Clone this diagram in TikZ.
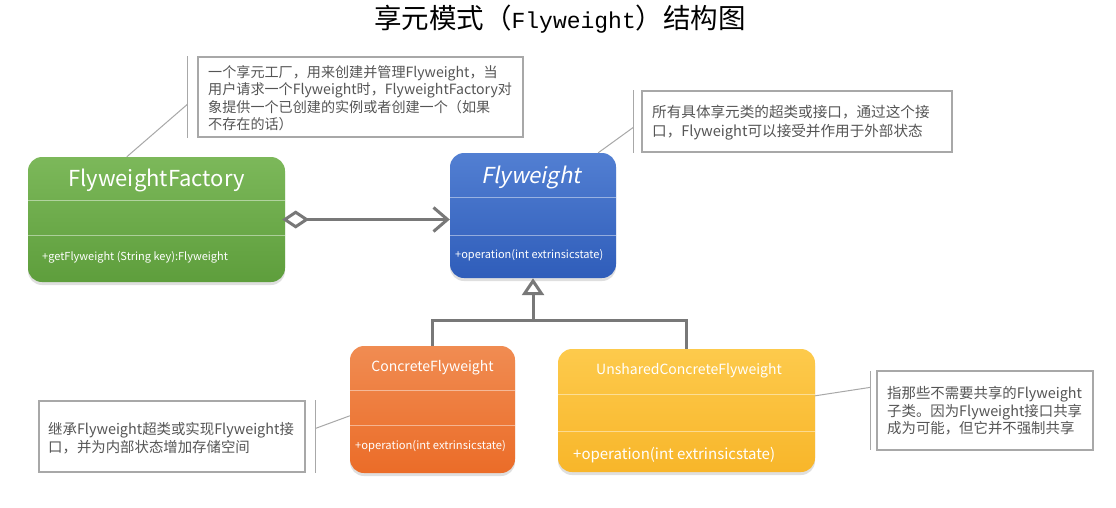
\documentclass[tikz,border=0pt]{standalone}
\usepackage{fontspec}
\setmainfont{Noto Sans CJK SC}
\newfontfamily\slantcjk[FakeSlant=0.2]{Noto Sans CJK SC}
\newfontfamily\monofam{Liberation Mono}
\usetikzlibrary{arrows.meta,shadows,calc}
\definecolor{gtop}{HTML}{7CB85A}
\definecolor{gbot}{HTML}{5E9E3C}
\definecolor{btop}{HTML}{527FD2}
\definecolor{bbot}{HTML}{2F5DBA}
\definecolor{otop}{HTML}{F08C52}
\definecolor{obot}{HTML}{EB6C28}
\definecolor{ytop}{HTML}{FDCA4C}
\definecolor{ybot}{HTML}{F8B62A}
\definecolor{notegray}{HTML}{A8A8A8}
\definecolor{notetxt}{HTML}{555555}
\definecolor{conngray}{HTML}{787878}
\tikzset{
  umlbox/.style={rectangle, rounded corners=14pt, draw=none, inner sep=0pt,
    drop shadow={shadow xshift=0pt,shadow yshift=-3pt,opacity=0.25}},
  divider/.style={draw=white, draw opacity=0.45, line width=0.8pt},
  hdr/.style={text=white, inner sep=0pt},
  meth/.style={text=white, inner sep=0pt, anchor=west},
  notebox/.style={draw=notegray, line width=1.3pt, inner sep=0pt, fill=white},
  notetext/.style={text=notetxt, anchor=west, align=left, inner sep=0pt},
  noteline/.style={draw=notegray, line width=1.3pt},
  notelink/.style={draw=notegray, line width=1pt},
  conn/.style={draw=conngray, line width=3pt},
}
\begin{document}
\begin{tikzpicture}[x=1pt,y=-1pt]
\path[fill=white] (0,0) rectangle (1116,507);
\useasboundingbox (0,0) rectangle (1116,507);

% title
\node[inner sep=0pt] (title) at (560,19) {\fontsize{27.5}{30}\selectfont 享元模式（{\monofam\fontsize{23}{30}\selectfont Flyweight}）结构图};

% class boxes
\node[umlbox, top color=gtop, bottom color=gbot, minimum width=257pt, minimum height=125pt] (fac) at (156.5,219.5) {};
\node[umlbox, top color=btop, bottom color=bbot, minimum width=166pt, minimum height=125pt] (fw) at (533,215.5) {};
\node[umlbox, top color=otop, bottom color=obot, minimum width=165pt, minimum height=127pt] (cf) at (432.5,409.5) {};
\node[umlbox, top color=ytop, bottom color=ybot, minimum width=257pt, minimum height=123pt] (ucf) at (686.5,410.5) {};

% dividers
\draw[divider] ($(fac.north west)+(0,44)$) -- ($(fac.north east)+(0,44)$);
\draw[divider] ($(fac.north west)+(0,79)$) -- ($(fac.north east)+(0,79)$);
\draw[divider] ($(fw.north west)+(0,45)$) -- ($(fw.north east)+(0,45)$);
\draw[divider] ($(fw.north west)+(0,83)$) -- ($(fw.north east)+(0,83)$);
\draw[divider] ($(cf.north west)+(0,45)$) -- ($(cf.north east)+(0,45)$);
\draw[divider] ($(cf.north west)+(0,80)$) -- ($(cf.north east)+(0,80)$);
\draw[divider] ($(ucf.north west)+(0,46)$) -- ($(ucf.north east)+(0,46)$);
\draw[divider] ($(ucf.north west)+(0,83)$) -- ($(ucf.north east)+(0,83)$);

% box texts
\node[hdr, font=\fontsize{22}{26}\selectfont] (facH) at (156.5,180) {FlyweightFactory};
\node[meth, font=\fontsize{11}{13}\selectfont] (facM) at (42,257) {+getFlyweight (String key):Flyweight};
\node[hdr, font=\slantcjk\fontsize{22}{26}\selectfont] (fwH) at (531,177) {Flyweight};
\node[meth, font=\fontsize{11}{13}\selectfont] (fwM) at (455,255) {+operation(int extrinsicstate)};
\node[hdr, font=\fontsize{14}{16}\selectfont] (cfH) at (432.5,368) {ConcreteFlyweight};
\node[meth, font=\fontsize{11.2}{13}\selectfont] (cfM) at (355,446) {+operation(int extrinsicstate)};
\node[hdr, font=\fontsize{14}{16}\selectfont] (ucfH) at (689,371) {UnsharedConcreteFlyweight};
\node[meth, font=\fontsize{15}{17}\selectfont] (ucfM) at (573,455) {+operation(int extrinsicstate)};

% aggregation
\draw[conn, {Diamond[open,fill=white,length=27pt,width=18pt,line width=3pt]}-{Straight Barb[length=14pt,width=24pt,line width=3pt]}]
  ([xshift=-3pt]fac.east) -- (fac.east -| fw.west);

% inheritance
\coordinate (jn) at ($(fw.south)+(0,42)$);
\draw[conn] (cf.north) |- (jn) -| (ucf.north);
\draw[conn, -{Triangle[open,fill=white,length=17pt,width=22pt,line width=3pt]}] (jn) -- (fw.south);

% notes
\node[notebox, minimum width=325pt, minimum height=80pt] (n1) at (360.5,97) {};
\node[notebox, minimum width=310pt, minimum height=61pt] (n2) at (797,121.5) {};
\node[notebox, minimum width=266pt, minimum height=71pt] (n3) at (172,436.5) {};
\node[notebox, minimum width=216pt, minimum height=79pt] (n4) at (985,410.5) {};

\node[notetext, font=\fontsize{14.1}{17.5}\selectfont] (n1t) at (208,98) {一个享元工厂，用来创建并管理Flyweight，当\\用户请求一个Flyweight时，FlyweightFactory对\\象提供一个已创建的实例或者创建一个（如果\\不存在的话）};
\node[notetext, font=\fontsize{14.6}{19}\selectfont] (n2t) at (652,122.5) {所有具体享元类的超类或接口，通过这个接\\口，Flyweight可以接受并作用于外部状态};
\node[notetext, font=\fontsize{14.4}{18}\selectfont] (n3t) at (48,438) {继承Flyweight超类或实现Flyweight接\\口，并为内部状态增加存储空间};
\node[notetext, font=\fontsize{14.4}{17.5}\selectfont] (n4t) at (887,411) {指那些不需要共享的Flyweight\\子类。因为Flyweight接口共享\\成为可能，但它并不强制共享};

% note side bars
\draw[noteline] ($(n1.north west)+(-10,0)$) -- ($(n1.south west)+(-10,0)$);
\draw[noteline] ($(n2.north west)+(-8,0)$) -- ($(n2.south west)+(-8,0)$);
\draw[noteline] ($(n3.north east)+(10,0)$) -- ($(n3.south east)+(10,0)$);
\draw[noteline] ($(n4.north west)+(-6,1)$) -- ($(n4.south west)+(-6,-1)$);

% note links
\coordinate (l1a) at ($(fac.north west)+(99,0)$);
\coordinate (l1b) at ($(n1.north west)+(-10,48)$);
\draw[notelink] (l1a) -- (l1b);
\coordinate (l2a) at ($(fw.north east)+(-18,0)$);
\coordinate (l2b) at ($(n2.north west)+(-8,37)$);
\draw[notelink] (l2a) -- (l2b);
\coordinate (l3a) at ($(n3.north east)+(10,28)$);
\coordinate (l3b) at ($(cf.north west)+(0,70)$);
\draw[notelink] (l3a) -- (l3b);
\coordinate (l4a) at ($(ucf.north east)+(0,47)$);
\coordinate (l4b) at ($(n4.north west)+(-6,17)$);
\draw[notelink] (l4a) -- (l4b);
\end{tikzpicture}
\end{document}
